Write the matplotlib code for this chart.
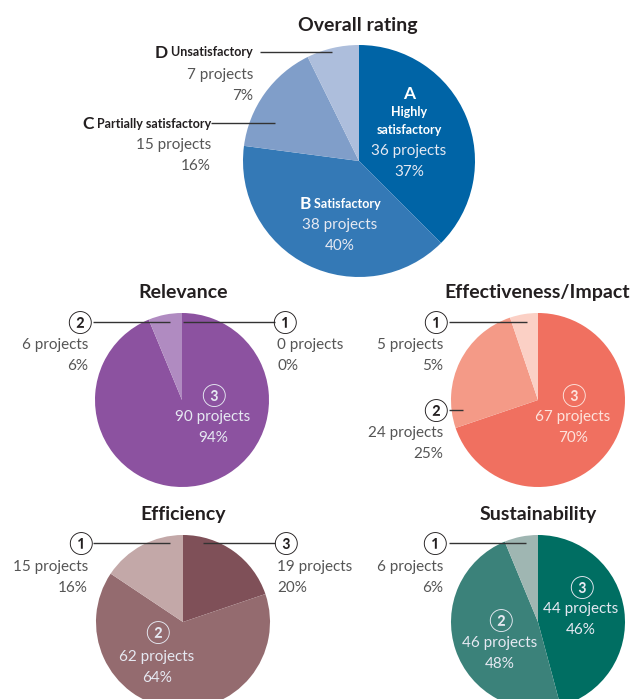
import matplotlib
matplotlib.use("Agg")
import matplotlib.pyplot as plt

# counts and shares, listed clockwise from 12 o'clock
overall_letters = ["A", "B", "C", "D"]
overall_names = ["Highly", "Satisfactory", "Partially satisfactory", "Unsatisfactory"]
overall_counts = [36, 38, 15, 7]
overall_pct = [37, 40, 16, 7]
overall_colors = ["#0064a6", "#3479b6", "#809ec9", "#adbedc"]

grades = ["③", "②", "①"]

relevance_counts = [90, 6, 0]
relevance_pct = [94, 6, 0]
relevance_colors = ["#8c52a0", "#b08bc1", "#d6c3e0"]

effect_counts = [67, 24, 5]
effect_pct = [70, 25, 5]
effect_colors = ["#f07060", "#f49a87", "#fbd0c5"]

efficiency_counts = [19, 62, 15]
efficiency_pct = [20, 64, 16]
efficiency_colors = ["#7f5058", "#946b6f", "#c3a8a8"]

sustain_counts = [44, 46, 6]
sustain_pct = [46, 48, 6]
sustain_colors = ["#006e62", "#3b827a", "#9fb6b2"]

FONT = ["Lato", "Noto Sans CJK JP", "DejaVu Sans"]
DARK = "#231f20"
GRAY = "#555555"
LIGHT = "#e6e9f2"
GSIZE = 16

fig = plt.figure(figsize=(6.35, 6.99), dpi=100)
ax = fig.add_axes([0, 0, 1, 1])
renderer = fig.canvas.get_renderer()


def pie(counts, colors, cx, cy, r):
    # y axis runs downwards, so counterclock here turns clockwise on screen
    ax.pie(counts, colors=colors, center=(cx, cy), radius=r, startangle=-90,
           counterclock=True, frame=True, wedgeprops=dict(linewidth=0))


def txt(x, y, s, size=11, color=GRAY, weight="normal", ha="center", shift=0.36):
    base = y + shift * size * 100 / 72
    return ax.text(x, base, s, fontsize=size, color=color, fontweight=weight,
                   ha=ha, va="baseline", family=FONT)


def grade(x, y, s, color=DARK):
    txt(x, y, s, size=GSIZE, color=color, shift=0.38)


def rated(x, y, letter, name, ha, color=DARK):
    a = txt(0, y, letter, size=12.5, color=color, weight="bold", ha="left")
    b = txt(0, y, " " + name, size=9, color=color, weight="bold", ha="left")
    wa = a.get_window_extent(renderer).width
    wb = b.get_window_extent(renderer).width
    start = x - (wa + wb) if ha == "right" else x - (wa + wb) / 2
    a.set_x(start)
    b.set_x(start + wa)


def lead(x0, x1, y):
    ax.plot([x0, x1], [y, y], color="#333333", lw=1.0, solid_capstyle="butt")


def block(x, y, n, p, ha, color=GRAY):
    txt(x, y, f"{n} projects", color=color, ha=ha)
    txt(x, y + 21, f"{p}%", color=color, ha=ha)


def title(x, y, s):
    txt(x, y, s, size=14, color=DARK, weight="bold")


# Overall rating
pie(overall_counts, overall_colors, 359, 161, 116)
title(358, 24, "Overall rating")

txt(409, 93, overall_letters[0], size=12.5, color="white", weight="bold")
txt(409, 111, overall_names[0], size=9, color="white", weight="bold")
txt(409, 129, "satisfactory", size=9, color="white", weight="bold")
block(409, 150, overall_counts[0], overall_pct[0], "center", LIGHT)

rated(340, 203, overall_letters[1], overall_names[1], "center", "white")
block(340, 224, overall_counts[1], overall_pct[1], "center", LIGHT)

rated(211, 123, overall_letters[2], overall_names[2], "right")
lead(211, 275, 123)
block(211, 143, overall_counts[2], overall_pct[2], "right")

rated(253, 52, overall_letters[3], overall_names[3], "right")
lead(260, 332, 52)
block(253, 73, overall_counts[3], overall_pct[3], "right")

# Relevance
pie(relevance_counts, relevance_colors, 182, 400, 87)
title(183, 291, "Relevance")
grade(79, 322, grades[1])
lead(93, 170, 322)
block(88, 344, relevance_counts[1], relevance_pct[1], "right")
grade(284, 322, grades[2])
lead(183, 275, 322)
block(277, 344, relevance_counts[2], relevance_pct[2], "left")
grade(213, 395, grades[0], LIGHT)
block(213, 416, relevance_counts[0], relevance_pct[0], "center", LIGHT)

# Effectiveness/Impact
pie(effect_counts, effect_colors, 538, 400, 87)
title(537, 291, "Effectiveness/Impact")
grade(435, 322, grades[2])
lead(449, 527, 322)
block(443, 344, effect_counts[2], effect_pct[2], "right")
grade(435, 410, grades[1])
lead(449, 463, 410)
block(443, 432, effect_counts[1], effect_pct[1], "right")
grade(573, 395, grades[0], "#fde3dc")
block(573, 416, effect_counts[0], effect_pct[0], "center", "#fde3dc")

# Efficiency
pie(efficiency_counts, efficiency_colors, 183, 622, 87)
title(183, 513, "Efficiency")
grade(80, 543, grades[2])
lead(93, 170, 543)
block(88, 565, efficiency_counts[2], efficiency_pct[2], "right")
grade(285, 543, grades[0])
lead(203, 275, 543)
block(277, 565, efficiency_counts[0], efficiency_pct[0], "left")
grade(157, 632, grades[1], LIGHT)
block(157, 655, efficiency_counts[1], efficiency_pct[1], "center", LIGHT)

# Sustainability
pie(sustain_counts, sustain_colors, 538, 622, 87)
title(538, 513, "Sustainability")
grade(434, 543, grades[2])
lead(449, 526, 543)
block(443, 565, sustain_counts[2], sustain_pct[2], "right")
grade(581, 587, grades[0], LIGHT)
block(581, 608, sustain_counts[0], sustain_pct[0], "center", LIGHT)
grade(500, 620, grades[1], LIGHT)
block(500, 641, sustain_counts[1], sustain_pct[1], "center", LIGHT)

ax.set_xlim(0, 635)
ax.set_ylim(699, 0)
ax.set_aspect("auto")
ax.axis("off")

fig.savefig("out.png", dpi=100)
